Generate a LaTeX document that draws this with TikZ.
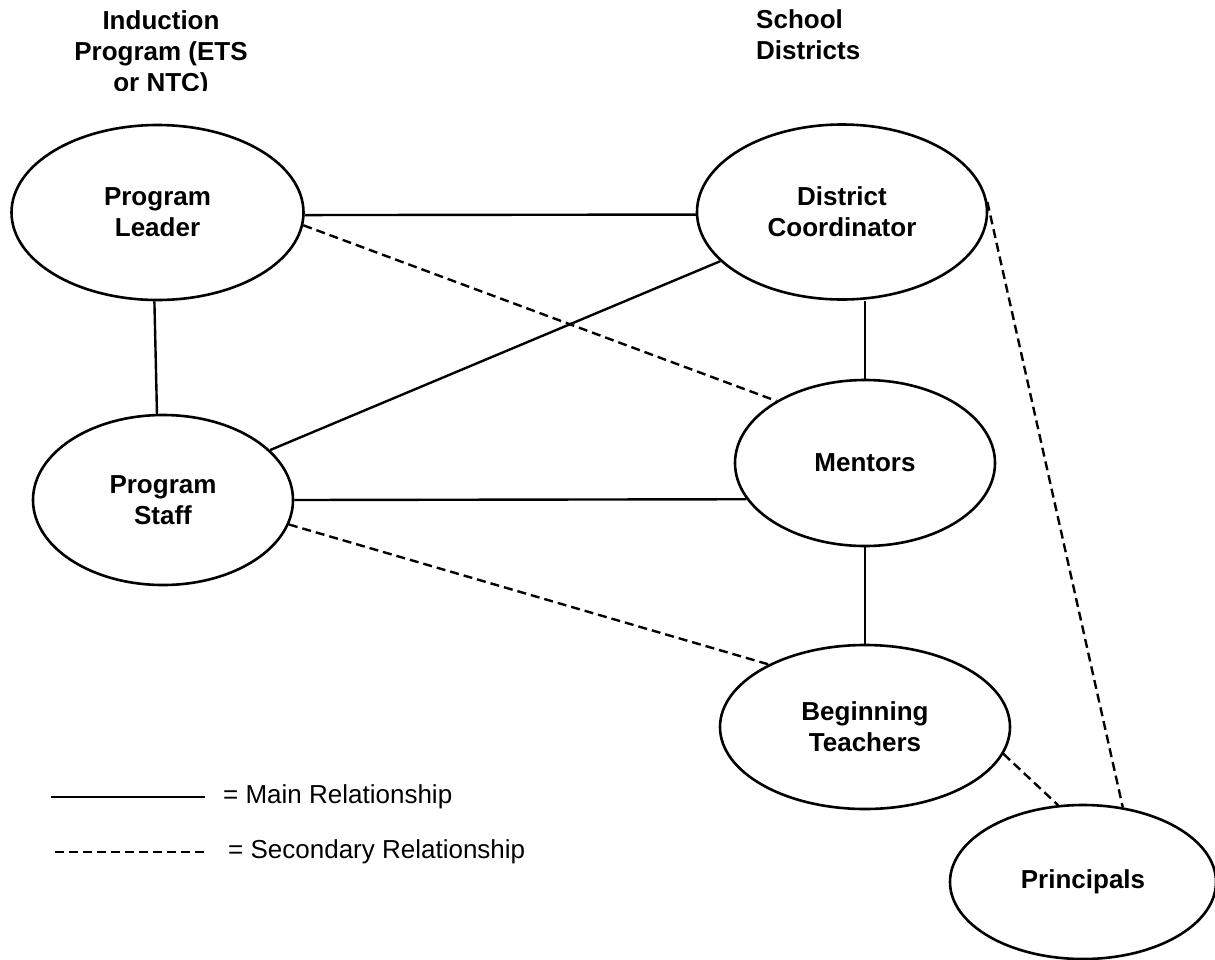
\documentclass[tikz,border=0pt]{standalone}
\usepackage{fontspec}
\setmainfont{Liberation Sans}
\usetikzlibrary{shapes.geometric}
\begin{document}
\begin{tikzpicture}[x=1pt,y=-1pt,
  ell/.style={draw, line width=2.6pt, ellipse, inner sep=0pt, align=center,
    font=\fontsize{26}{31}\selectfont\bfseries},
  title/.style={inner sep=0pt, font=\fontsize{26}{31}\selectfont\bfseries},
  mainrel/.style={line width=2.4pt},
  secrel/.style={line width=2.4pt, dash pattern=on 9pt off 5pt},
  legtext/.style={inner sep=0pt, anchor=west, font=\fontsize{26}{31}\selectfont}]
\useasboundingbox[fill=white] (0,0) rectangle (1215,959);

% titles
\begin{scope}
  \clip (0,0) rectangle (400,90);
  \node[title, align=center, anchor=north] (t1) at (161,10) {Induction\\Program (ETS\\or NTC)};
\end{scope}
\node[title, align=left, anchor=north west] (t2) at (756,9) {School\\Districts};

% ellipses
\node[ell, minimum width=292pt, minimum height=175pt] (pl) at (157.5,212.5) {Program\\Leader};
\node[ell, minimum width=290pt, minimum height=175pt] (dc) at (842,212) {District\\Coordinator};
\node[ell, minimum width=260pt, minimum height=166pt] (me) at (865,463) {Mentors};
\node[ell, minimum width=260pt, minimum height=170pt] (ps) at (163,500) {Program\\Staff};
\node[ell, minimum width=290pt, minimum height=164pt] (bt) at (865,727) {Beginning\\Teachers};
\node[ell, minimum width=266pt, minimum height=154pt] (pr) at (1083,882) {Principals};

% main relationships
\draw[mainrel] (pl.-1) -- (dc.181);
\draw[mainrel] (pl.268) -- (ps.94);
\draw[mainrel] (ps.25) -- (dc.202);
\draw[mainrel] (ps.0) -- (me.197);
\draw[mainrel] (me.north |- dc.south) -- (me.north);
\draw[mainrel] (me.south) -- (bt.north);

% secondary relationships
\draw[secrel] (pl.-5) -- (me.145);
\draw[secrel] (ps.-11) -- (bt.147);
\draw[secrel] (dc.4) -- (pr.62);
\draw[secrel] (bt.-11.5) -- (pr.108);

% legend
\coordinate (la) at (51,797);
\coordinate (lb) at (205,797);
\coordinate (lc) at (55,852);
\coordinate (ld) at (205,852);
\draw[mainrel] (la) -- (lb);
\draw[secrel] (lc) -- (ld);
\node[legtext] (lt1) at (223,797) {= Main Relationship};
\node[legtext] (lt2) at (228,852) {= Secondary Relationship};
\end{tikzpicture}
\end{document}
